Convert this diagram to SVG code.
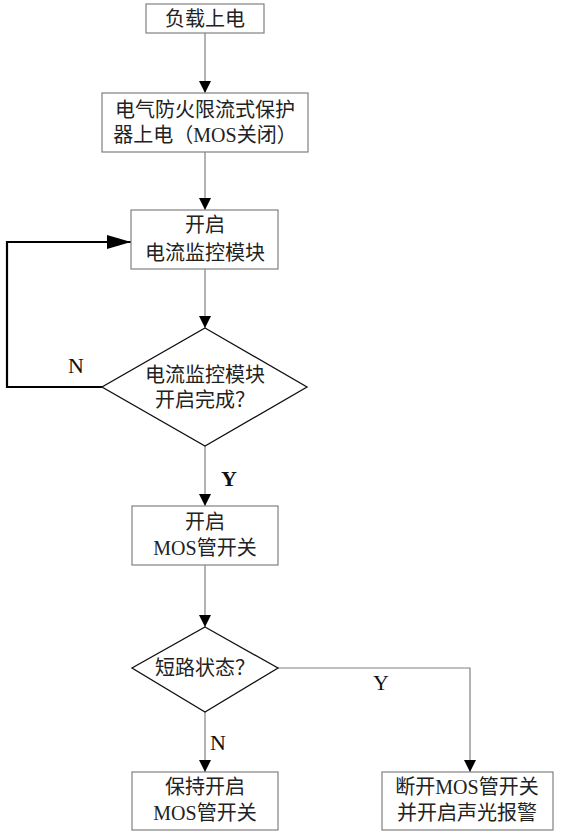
<svg xmlns="http://www.w3.org/2000/svg" width="563" height="832" viewBox="0 0 563 832">
<style>
.box{fill:#fff;stroke:#808080;stroke-width:1.2}
.dia{fill:#fff;stroke:#111;stroke-width:1.3}
.t{font-family:"Liberation Serif","Noto Sans CJK SC",serif;font-size:20px;fill:#222;text-anchor:middle;dominant-baseline:central}
.lbl{font-family:"Liberation Serif",serif;font-size:22px;fill:#111;text-anchor:middle;dominant-baseline:central}
.c{fill:none;stroke:#808080;stroke-width:1.2}
.cb{fill:none;stroke:#000;stroke-width:2.2}
</style>
<defs>
<marker id="ah" markerWidth="12" markerHeight="12" viewBox="0 0 12 12" refX="12" refY="6" orient="auto" markerUnits="userSpaceOnUse">
<path d="M0,0 L12,6 L0,12 Z" fill="#000"/>
</marker>
<marker id="ahb" markerWidth="24" markerHeight="14" viewBox="0 0 24 14" refX="24" refY="7" orient="auto" markerUnits="userSpaceOnUse">
<path d="M0,0 L24,7 L0,14 Z" fill="#000"/>
</marker>
</defs>
<g id="connectors">
<path class="c" d="M205,33 V93" marker-end="url(#ah)"/>
<path class="c" d="M205,152 V210" marker-end="url(#ah)"/>
<path class="c" d="M205,269 V328" marker-end="url(#ah)"/>
<path class="c" d="M205,446 V506" marker-end="url(#ah)"/>
<path class="c" d="M205,565 V627" marker-end="url(#ah)"/>
<path class="c" d="M205,712 V772" marker-end="url(#ah)"/>
<path class="c" d="M278,668 H470 V772" marker-end="url(#ah)"/>
<path class="cb" d="M102,387 H7 V242 H131" marker-end="url(#ahb)"/>
<text class="lbl" x="76" y="365">N</text>
<text class="lbl" x="229" y="478" font-weight="bold">Y</text>
<text class="lbl" x="381" y="682">Y</text>
<text class="lbl" x="218" y="742">N</text>
</g>
<g id="n1">
<rect class="box" x="146" y="4" width="118" height="29"/>
<text class="t" x="205" y="19">负载上电</text>
</g>
<g id="n2">
<rect class="box" x="102" y="93" width="206" height="59"/>
<text class="t" x="205" y="110">电气防火限流式保护</text>
<text class="t" x="205" y="135">器上电（MOS关闭）</text>
</g>
<g id="n3">
<rect class="box" x="131" y="210" width="147" height="59"/>
<text class="t" x="205" y="225">开启</text>
<text class="t" x="205" y="253">电流监控模块</text>
</g>
<g id="n4">
<polygon class="dia" points="205,328 307,387 205,446 102,387"/>
<text class="t" x="205" y="375">电流监控模块</text>
<text class="t" x="205" y="400">开启完成？</text>
</g>
<g id="n5">
<rect class="box" x="132" y="506" width="146" height="59"/>
<text class="t" x="205" y="522">开启</text>
<text class="t" x="205" y="548">MOS管开关</text>
</g>
<g id="n6">
<polygon class="dia" points="205,627 278,668 205,712 132,668"/>
<text class="t" x="205" y="668">短路状态？</text>
</g>
<g id="n7">
<rect class="box" x="132" y="772" width="146" height="58"/>
<text class="t" x="205" y="787">保持开启</text>
<text class="t" x="205" y="813">MOS管开关</text>
</g>
<g id="n8">
<rect class="box" x="382" y="772" width="171" height="58"/>
<text class="t" x="467" y="787">断开MOS管开关</text>
<text class="t" x="467" y="813">并开启声光报警</text>
</g>
</svg>
